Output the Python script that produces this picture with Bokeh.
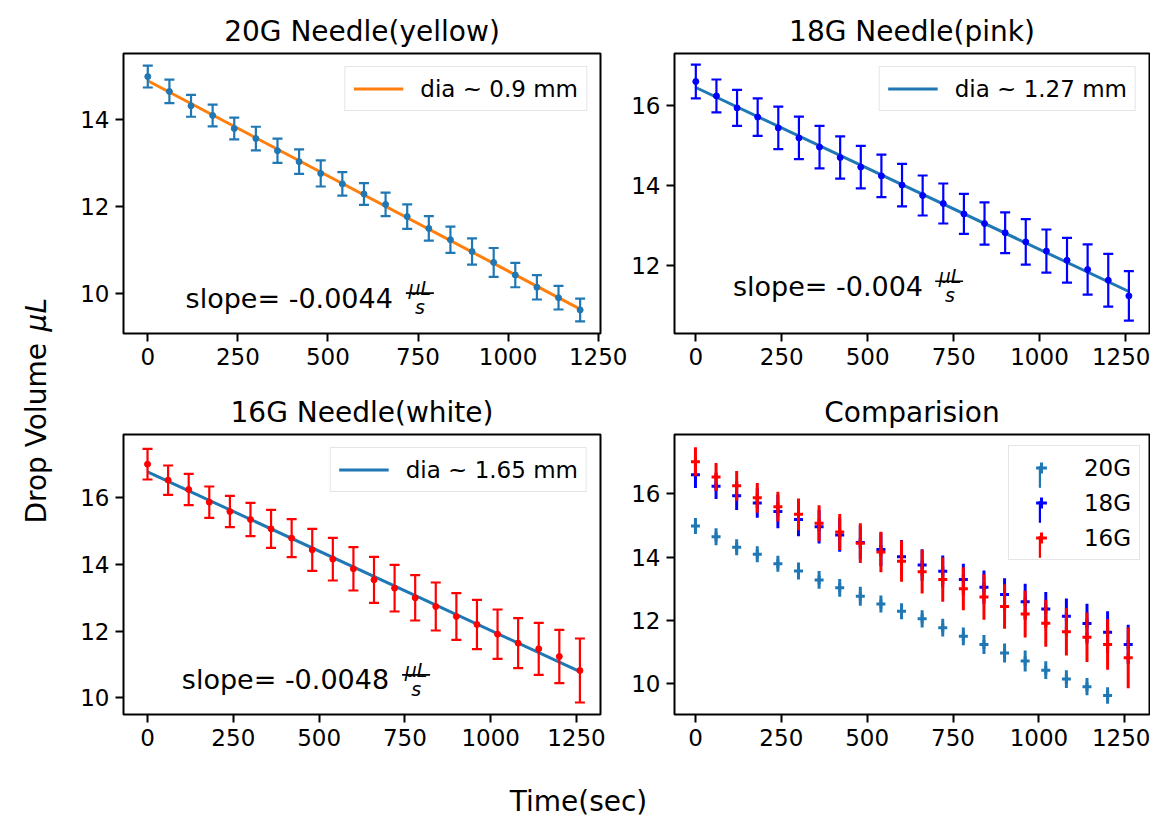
import numpy as np
from bokeh.plotting import figure
from bokeh.layouts import row, column
from bokeh.models import (Range1d, FixedTicker, Legend, LegendItem, Label,
                          ColumnDataSource)
from bokeh.embed import file_html
from bokeh.resources import INLINE

# ---------------- data ----------------
time_20g = [0, 60, 120, 180, 240, 300, 360, 420, 480, 540, 600, 660, 720,
            780, 840, 900, 960, 1020, 1080, 1140, 1200]
vol_20g = [14.98, 14.64, 14.31, 14.09, 13.79, 13.56, 13.28, 13.03, 12.76,
           12.52, 12.29, 12.05, 11.77, 11.50, 11.24, 10.97, 10.72, 10.43,
           10.15, 9.91, 9.63]
err_20g = [0.25, 0.27, 0.25, 0.25, 0.25, 0.27, 0.28, 0.28, 0.30, 0.27, 0.25,
           0.27, 0.28, 0.28, 0.30, 0.30, 0.33, 0.28, 0.28, 0.27, 0.26]

time_18g = [0, 60, 120, 180, 240, 300, 360, 420, 480, 540, 600, 660, 720,
            780, 840, 900, 960, 1020, 1080, 1140, 1200, 1260]
vol_18g = [16.60, 16.24, 15.94, 15.71, 15.44, 15.19, 14.96, 14.70, 14.46,
           14.24, 14.01, 13.75, 13.55, 13.29, 13.05, 12.82, 12.59, 12.36,
           12.13, 11.90, 11.63, 11.24]
err_18g = [0.42, 0.41, 0.45, 0.47, 0.53, 0.53, 0.53, 0.53, 0.53, 0.53, 0.53,
           0.50, 0.50, 0.50, 0.53, 0.51, 0.57, 0.54, 0.56, 0.63, 0.66, 0.62]

time_16g = [0, 60, 120, 180, 240, 300, 360, 420, 480, 540, 600, 660, 720,
            780, 840, 900, 960, 1020, 1080, 1140, 1200, 1260]
vol_16g = [17.01, 16.53, 16.25, 15.87, 15.59, 15.35, 15.07, 14.79, 14.44,
           14.16, 13.87, 13.54, 13.29, 13.00, 12.74, 12.44, 12.20, 11.91,
           11.64, 11.47, 11.24, 10.82]
err_16g = [0.46, 0.44, 0.47, 0.47, 0.47, 0.50, 0.57, 0.57, 0.63, 0.64, 0.65,
           0.69, 0.70, 0.68, 0.72, 0.70, 0.74, 0.74, 0.75, 0.78, 0.80, 0.96]

x_ticks = [0, 250, 500, 750, 1000, 1250]
y_ticks = [10, 12, 14, 16]
titles = ["20G Needle(yellow)", "18G Needle(pink)", "16G Needle(white)", "Comparision"]
dia_labels = ["dia ~ 0.9 mm", "dia ~ 1.27 mm", "dia ~ 1.65 mm"]
series_labels = ["20G", "18G", "16G"]
slope_texts = ["slope= -0.0044", "slope= -0.004", "slope= -0.0048"]

# ---------------- style / layout constants ----------------
FONT = "DejaVu Sans"
TAB_BLUE = "#1f77b4"
TAB_ORANGE = "#ff7f0e"
C20, C18, C16 = TAB_BLUE, "#0000ff", "#ff0000"

LEFT_W = 60
COL1_W, COL2_W = 568, 522
ROW1_H, ROW2_H = 385, 385
BOTTOM_H = 52
B_L1, B_R1 = 63, 28
B_L2, B_R2 = 44, 1
B_T1, B_B1 = 53, 52
B_T2, B_B2 = 49, 56

XR_TL, YR_TL = (-67.4, 1256.5), (9.09, 15.51)
XR_TR, YR_TR = (-62.0, 1320.0), (10.30, 17.30)
XR_BL, YR_BL = (-70.0, 1320.0), (9.50, 17.90)
XR_BR, YR_BR = (-61.0, 1322.0), (9.03, 17.87)

SLOPE_POS = [(105, 9.90), (108, 11.48), (100, 10.54)]

ADV = {'s': 521, 'l': 278, 'o': 612, 'p': 635, 'e': 615, '=': 838, ' ': 318,
       '-': 361, '.': 318, 'D': 770, 'r': 411, 'V': 684, 'u': 634, 'm': 974}
for d in "0123456789":
    ADV[d] = 636


def text_width(txt, size):
    return sum(ADV.get(ch, 600) for ch in txt) * size / 1000.0


def make_panel(title, xr, yr, w, h, bl, br, bt, bb):
    p = figure(width=w, height=h, x_range=Range1d(*xr), y_range=Range1d(*yr),
               output_backend="svg", toolbar_location=None, title=title,
               min_border_left=bl, min_border_right=br,
               min_border_top=bt, min_border_bottom=bb)
    p.title.text_font = FONT
    p.title.text_font_size = "28px"
    p.title.text_font_style = "normal"
    p.title.text_color = "black"
    p.title.align = "center"
    p.title.standoff = 12
    p.grid.visible = False
    p.outline_line_color = "black"
    p.outline_line_width = 2
    p.outline_line_alpha = 1
    p.background_fill_color = "white"
    p.border_fill_color = "white"
    for ax in (p.xaxis[0], p.yaxis[0]):
        ax.axis_line_color = None
        ax.major_tick_line_color = "black"
        ax.major_tick_line_width = 2
        ax.major_tick_out = 8
        ax.major_tick_in = 0
        ax.minor_tick_line_color = None
        ax.major_label_text_font = FONT
        ax.major_label_text_font_size = "23px"
        ax.major_label_text_color = "black"
        ax.major_label_standoff = 6
    p.xaxis[0].ticker = FixedTicker(ticks=x_ticks)
    p.yaxis[0].ticker = FixedTicker(ticks=y_ticks)
    return p


def frame_scales(w, h, bl, br, bt, bb, xr, yr):
    fw = w - bl - br
    fh = h - bt - bb
    return fw / (xr[1] - xr[0]), fh / (yr[1] - yr[0])


def add_errorbars(p, t, v, e, color):
    lo = [a - b for a, b in zip(v, e)]
    hi = [a + b for a, b in zip(v, e)]
    src = ColumnDataSource(dict(t=t, v=v, lo=lo, hi=hi))
    p.segment(x0="t", y0="lo", x1="t", y1="hi", source=src,
              line_color=color, line_width=2.2)
    p.scatter(x="t", y="lo", source=src, marker="dash", size=10,
              line_color=color, line_width=2.2)
    p.scatter(x="t", y="hi", source=src, marker="dash", size=10,
              line_color=color, line_width=2.2)
    p.scatter(x="t", y="v", source=src, marker="circle", size=6,
              fill_color=color, line_color=color)


def add_fit(p, t, v, color, label):
    m, b = np.polyfit(t, v, 1)
    xs = [t[0], t[-1]]
    ys = [m * t[0] + b, m * t[-1] + b]
    r = p.line(xs, ys, line_color=color, line_width=3)
    leg = Legend(items=[LegendItem(label=label, renderers=[r])],
                 location="top_right", margin=13, padding=8,
                 glyph_width=50, glyph_height=27, label_height=27,
                 label_standoff=17, spacing=0,
                 label_text_font=FONT, label_text_font_size="23px",
                 label_text_color="black",
                 border_line_color="#cccccc", border_line_width=1.5,
                 background_fill_color="white", background_fill_alpha=0.8)
    p.add_layout(leg)


def add_slope(p, pos, txt, sx, sy):
    x, y = pos
    p.add_layout(Label(x=x, y=y, text=txt, text_font=FONT,
                       text_font_size="27px", text_color="black",
                       text_align="left", text_baseline="alphabetic"))
    off = text_width(txt, 27) + 13
    bar_w = 28
    p.add_layout(Label(x=x, y=y, x_offset=off + bar_w / 2, y_offset=10,
                       text="\u03bcL", text_font=FONT, text_font_size="19px",
                       text_font_style="italic", text_color="black",
                       text_align="center", text_baseline="alphabetic"))
    p.add_layout(Label(x=x, y=y, x_offset=off + bar_w / 2, y_offset=-9,
                       text="s", text_font=FONT, text_font_size="19px",
                       text_font_style="italic", text_color="black",
                       text_align="center", text_baseline="alphabetic"))
    p.segment(x0=[x + off / sx], y0=[y + 5 / sy], x1=[x + (off + bar_w) / sx],
              y1=[y + 5 / sy], line_color="black", line_width=1.6)


# ---------------- panels ----------------
tl = make_panel(titles[0], XR_TL, YR_TL, COL1_W, ROW1_H, B_L1, B_R1, B_T1, B_B1)
tr = make_panel(titles[1], XR_TR, YR_TR, COL2_W, ROW1_H, B_L2, B_R2, B_T1, B_B1)
bl = make_panel(titles[2], XR_BL, YR_BL, COL1_W, ROW2_H, B_L1, B_R1, B_T2, B_B2)
br = make_panel(titles[3], XR_BR, YR_BR, COL2_W, ROW2_H, B_L2, B_R2, B_T2, B_B2)

s_tl = frame_scales(COL1_W, ROW1_H, B_L1, B_R1, B_T1, B_B1, XR_TL, YR_TL)
s_tr = frame_scales(COL2_W, ROW1_H, B_L2, B_R2, B_T1, B_B1, XR_TR, YR_TR)
s_bl = frame_scales(COL1_W, ROW2_H, B_L1, B_R1, B_T2, B_B2, XR_BL, YR_BL)
s_br = frame_scales(COL2_W, ROW2_H, B_L2, B_R2, B_T2, B_B2, XR_BR, YR_BR)

add_fit(tl, time_20g, vol_20g, TAB_ORANGE, dia_labels[0])
add_errorbars(tl, time_20g, vol_20g, err_20g, C20)
add_slope(tl, SLOPE_POS[0], slope_texts[0], *s_tl)

add_fit(tr, time_18g, vol_18g, TAB_BLUE, dia_labels[1])
add_errorbars(tr, time_18g, vol_18g, err_18g, C18)
add_slope(tr, SLOPE_POS[1], slope_texts[1], *s_tr)

add_fit(bl, time_16g, vol_16g, TAB_BLUE, dia_labels[2])
add_errorbars(bl, time_16g, vol_16g, err_16g, C16)
add_slope(bl, SLOPE_POS[2], slope_texts[2], *s_bl)

# comparison panel
BAR_PX = 3.0
bar_w_data = BAR_PX / s_br[0]
bar_rs, pt_rs = [], []
for t, v, e, c in [(time_20g, vol_20g, err_20g, C20),
                   (time_18g, vol_18g, err_18g, C18),
                   (time_16g, vol_16g, err_16g, C16)]:
    src = ColumnDataSource(dict(t=t, v=v,
                                lo=[a - b for a, b in zip(v, e)],
                                hi=[a + b for a, b in zip(v, e)]))
    bar_rs.append(br.vbar(x="t", bottom="lo", top="hi", width=bar_w_data,
                          source=src, fill_color=c, line_color=None))
    pt_rs.append(br.scatter(x="t", y="v", source=src, marker="cross", size=9,
                            line_color=c, line_width=3))

leg_common = dict(padding=8, glyph_height=27, label_height=27, spacing=8,
                  label_text_font=FONT, label_text_font_size="23px",
                  label_text_color="black")
legB_w = 8 + 48 + 19 + 47.1 + 8
frame_w_br = COL2_W - B_L2 - B_R2
legB_x = frame_w_br - 13 - legB_w
leg_h = 8 + 27 * 3 + 8 * 2 + 8
legB_y = (ROW2_H - B_T2 - B_B2) - 13 - leg_h
legB = Legend(items=[LegendItem(label=lab, renderers=[r])
                     for lab, r in zip(series_labels, pt_rs)],
              location=(legB_x, legB_y), glyph_width=48, label_standoff=19,
              border_line_color="#cccccc", border_line_width=1.5,
              background_fill_color="white", background_fill_alpha=0.8,
              **leg_common)
legA_x = legB_x + 8 + 24 - 1.5
legA = Legend(items=[LegendItem(label=" ", renderers=[r]) for r in bar_rs],
              location=(legA_x, legB_y), glyph_width=3, label_standoff=0,
              border_line_color=None, background_fill_alpha=0,
              **leg_common)
br.add_layout(legB)
br.add_layout(legA)

# ---------------- shared axis labels ----------------
TOTAL_H = ROW1_H + ROW2_H
lab_y = figure(width=LEFT_W, height=TOTAL_H, x_range=Range1d(0, LEFT_W),
               y_range=Range1d(0, TOTAL_H), output_backend="svg",
               toolbar_location=None, min_border=0,
               x_axis_location=None, y_axis_location=None)
lab_y.grid.visible = False
lab_y.outline_line_color = None
y_start = TOTAL_H - 523
lab_y.add_layout(Label(x=36, y=y_start, text="Drop Volume", angle=np.pi / 2,
                       text_font=FONT, text_font_size="28px", text_color="black",
                       text_align="left", text_baseline="alphabetic"))
lab_y.add_layout(Label(x=36, y=y_start + text_width("Drop Volume ", 28),
                       text="\u03bcL", angle=np.pi / 2, text_font=FONT,
                       text_font_size="28px", text_font_style="italic",
                       text_color="black", text_align="left",
                       text_baseline="alphabetic"))

BOTTOM_W = LEFT_W + COL1_W + COL2_W
lab_x = figure(width=BOTTOM_W, height=BOTTOM_H, x_range=Range1d(0, BOTTOM_W),
               y_range=Range1d(0, BOTTOM_H), output_backend="svg",
               toolbar_location=None, min_border=0,
               x_axis_location=None, y_axis_location=None)
lab_x.grid.visible = False
lab_x.outline_line_color = None
lab_x.add_layout(Label(x=578, y=21, text="Time(sec)", text_font=FONT,
                       text_font_size="28px", text_color="black",
                       text_align="center", text_baseline="middle"))

layout = column(row(lab_y, column(row(tl, tr), row(bl, br))), lab_x)

open("out.html", "w").write(file_html(layout, INLINE))
